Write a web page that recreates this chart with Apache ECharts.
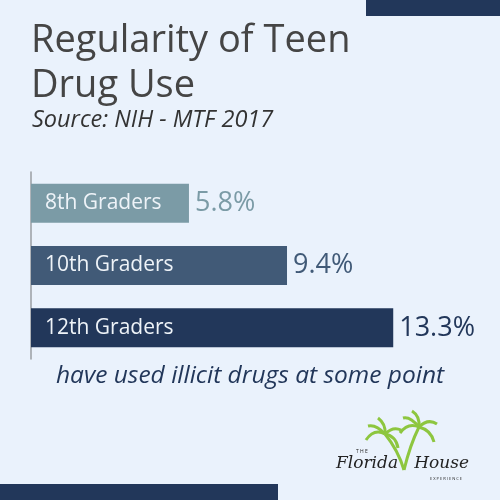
<!DOCTYPE html>
<html><head><meta charset="utf-8">
<script src="https://cdn.jsdelivr.net/npm/echarts@6/dist/echarts.min.js"></script>
<style>html,body{margin:0;padding:0;background:#EAF2FC}#c{width:500px;height:500px}</style>
</head><body><div id="c"></div>
<script>
var categories = ['8th Graders', '10th Graders', '12th Graders'];
var values = [5.8, 9.4, 13.3];
var barColors = ['#7B9BA6', '#415A77', '#22375A'];

var chart = echarts.init(document.getElementById('c'), null, {renderer: 'canvas'});
var FONT = '"Open Sans", Lato, sans-serif';
function curve(x1, y1, cx, cy, x2, y2, w) {
  return {type: 'bezierCurve', shape: {x1: x1, y1: y1, cpx1: cx, cpy1: cy, x2: x2, y2: y2},
    style: {stroke: '#8DC63F', lineWidth: w || 3, fill: 'none'}};
}
var logo = [
  curve(404, 470, 398, 450, 385, 434, 3), curve(404, 470, 410, 445, 419, 427, 3),
  curve(385, 434, 374, 428, 366, 440), curve(385, 434, 376, 424, 368, 426),
  curve(385, 434, 386, 424, 378, 418), curve(385, 434, 393, 426, 401, 430),
  curve(385, 434, 396, 436, 398, 448),
  curve(419, 427, 408, 422, 400, 433), curve(419, 427, 410, 416, 403, 418),
  curve(419, 427, 420, 416, 412, 411), curve(419, 427, 428, 418, 437, 424),
  curve(419, 427, 431, 430, 434, 442)
];
chart.setOption({
  backgroundColor: '#EAF2FC',
  animation: false,
  grid: {left: 31, top: 172, width: 463, height: 187},
  xAxis: {type: 'value', min: 0, max: 17, show: false},
  yAxis: {
    type: 'category', data: categories, inverse: true,
    axisLine: {show: true, lineStyle: {color: '#9A9EA3', width: 1.5}},
    axisTick: {show: false}, axisLabel: {show: false}
  },
  series: [{
    type: 'bar', barWidth: 39,
    data: values.map(function (v, i) { return {value: v, itemStyle: {color: barColors[i]}, label: {color: barColors[i]}}; }),
    label: {
      show: true, position: 'right', distance: 6,
      fontFamily: FONT, fontSize: 27,
      formatter: function (p) { return p.value.toFixed(1) + '%'; }
    }
  }, {
    type: 'bar', barWidth: 39, barGap: '-100%', silent: true,
    data: values,
    itemStyle: {color: 'transparent'},
    label: {
      show: true, position: 'insideLeft', distance: 14,
      fontFamily: FONT, fontSize: 21, color: '#EEF3F8',
      formatter: function (p) { return categories[p.dataIndex]; }
    }
  }],
  graphic: [
    {type: 'rect', shape: {x: 366, y: 0, width: 134, height: 16}, style: {fill: '#22375A'}},
    {type: 'rect', shape: {x: 0, y: 484, width: 278, height: 16}, style: {fill: '#22375A'}},
    {type: 'text', x: 31, y: 19, style: {text: 'Regularity of Teen\nDrug Use', font: '38px ' + FONT, fill: '#454545', lineHeight: 45}},
    {type: 'text', x: 32, y: 109, style: {text: 'Source: NIH - MTF 2017', font: 'italic 23.5px ' + FONT, fill: '#333333'}},
    {type: 'text', x: 250, y: 364, style: {text: 'have used illicit drugs at some point', font: 'italic 24.5px ' + FONT, fill: '#22375A', align: 'center'}},
    {type: 'text', x: 356, y: 449, style: {text: 'T H E', font: '5px ' + FONT, fill: '#222'}},
    {type: 'text', x: 336, y: 455, style: {text: 'Florida   House', font: 'italic 17px "DejaVu Serif", serif', fill: '#222'}},
    {type: 'text', x: 430, y: 477, style: {text: 'E X P E R I E N C E', font: '4px ' + FONT, fill: '#222'}}
  ].concat(logo)
});
</script></body></html>
